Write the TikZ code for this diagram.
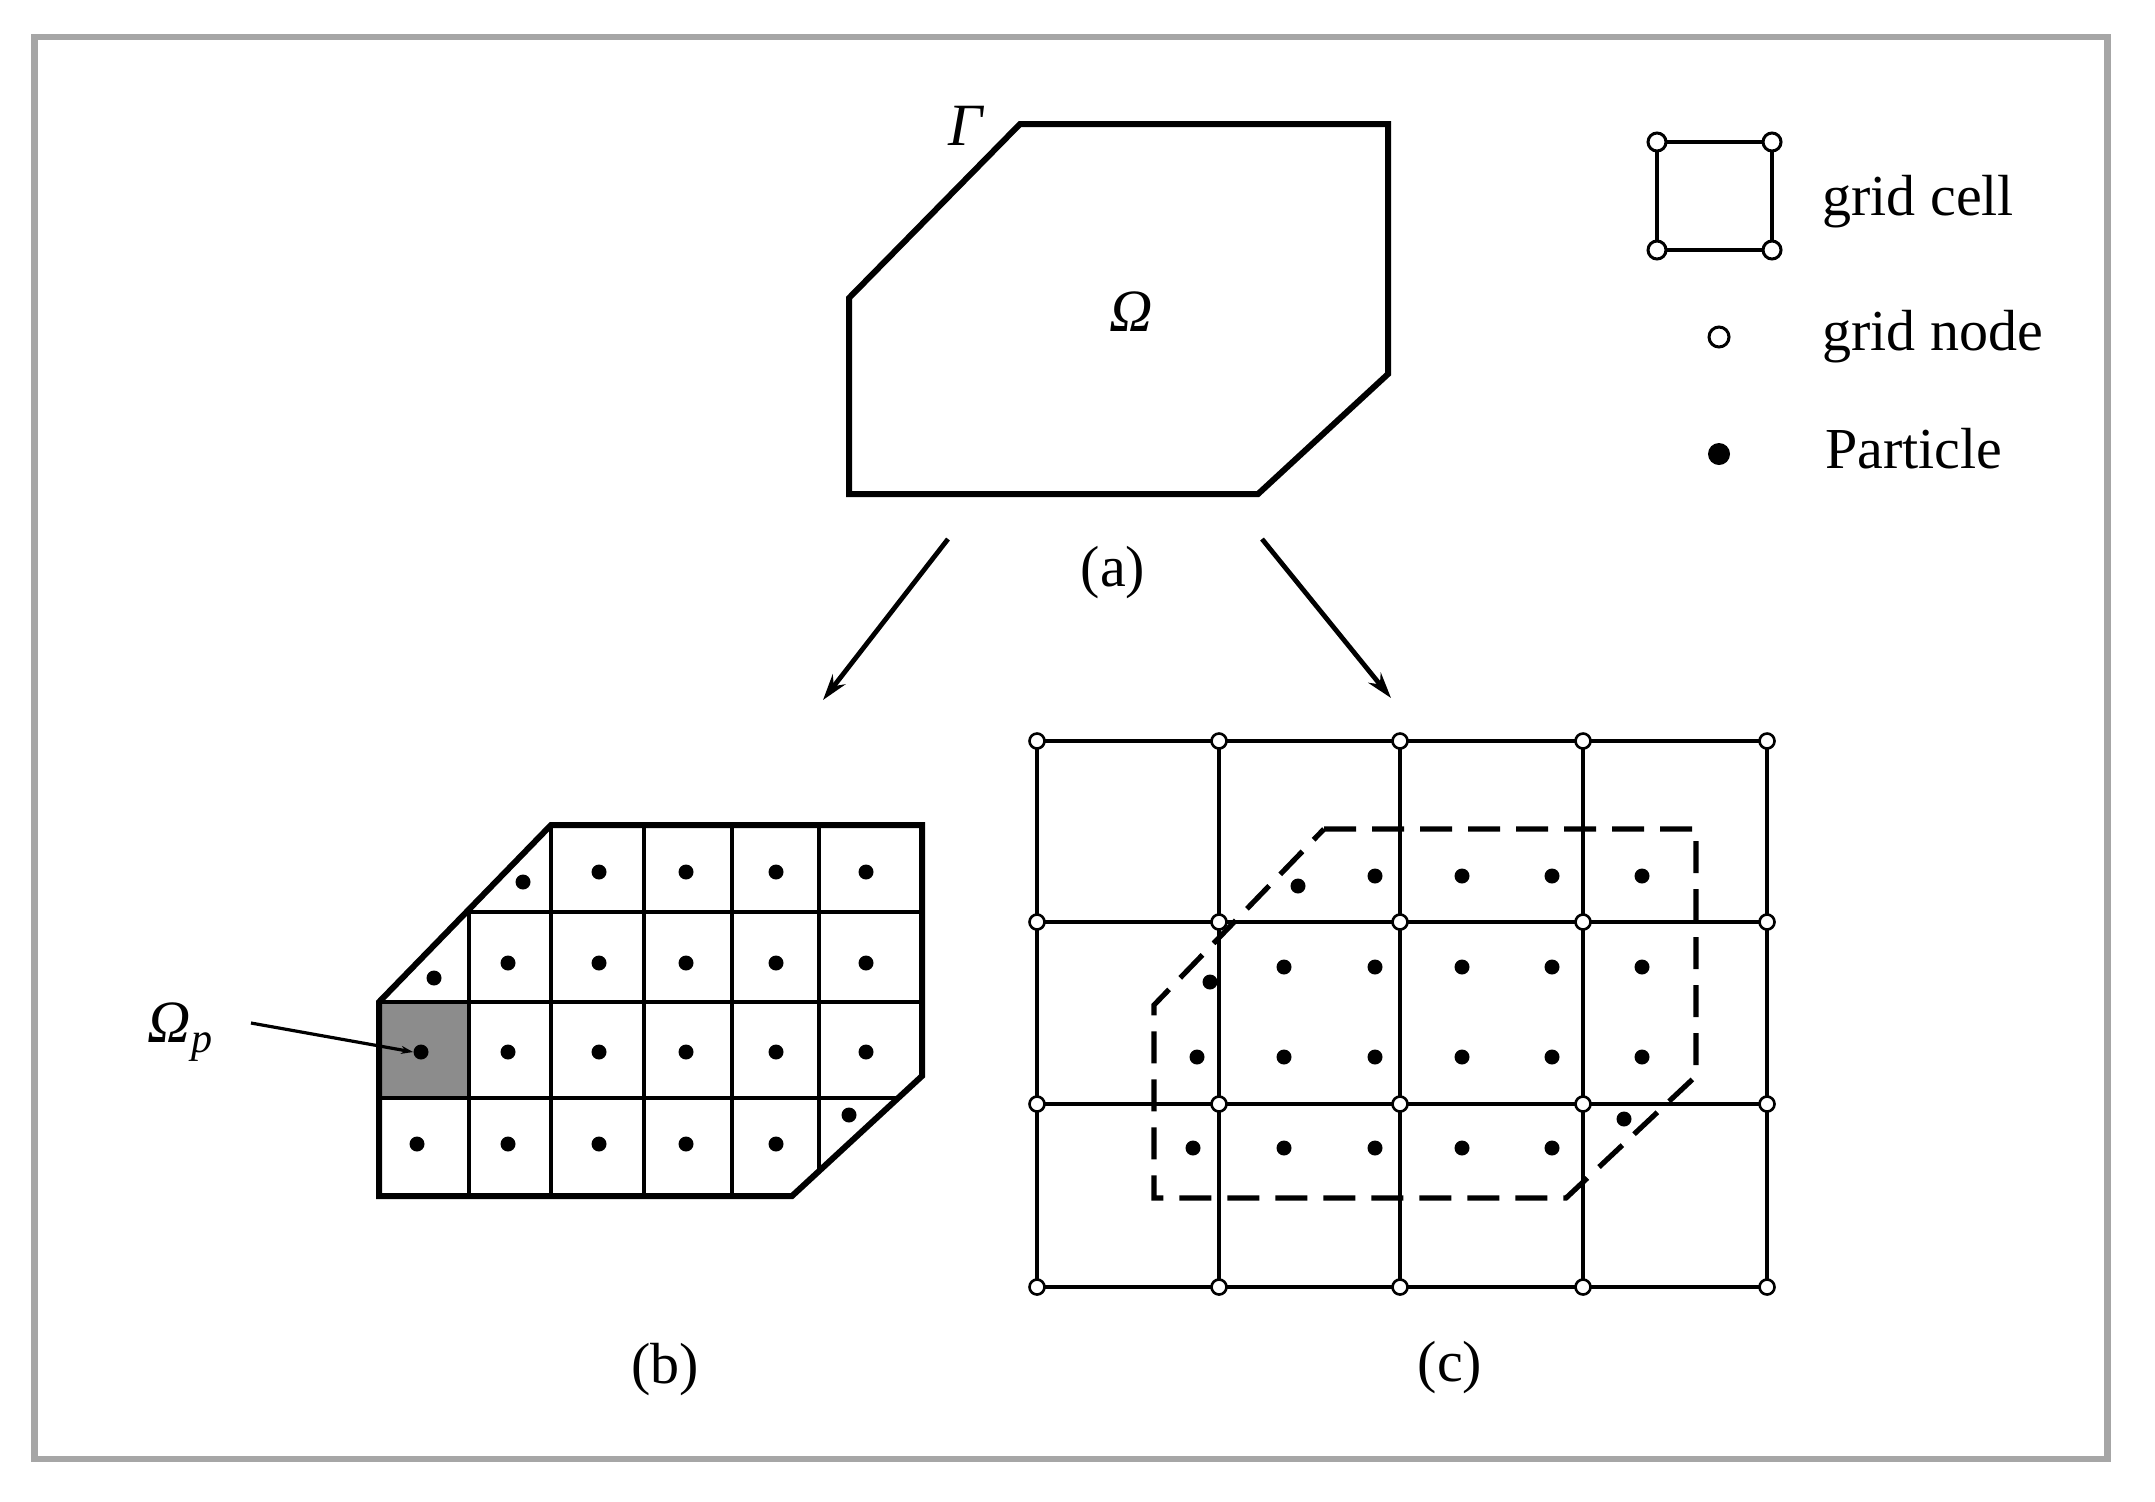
\documentclass[tikz,border=0pt]{standalone}
\usepackage{fontspec}
\setmainfont{Liberation Serif}
\usetikzlibrary{arrows.meta}
\begin{document}
\begin{tikzpicture}[x=0.5pt,y=-0.5pt,
  frame/.style={draw=black!35, line width=3.2pt},
  outline/.style={draw=black, line width=3pt, line join=miter},
  gline/.style={draw=black, line width=2.3pt},
  dashpoly/.style={draw=black, line width=2.6pt, dash pattern=on 16pt off 8pt},
  pdot/.style={circle, fill=black, inner sep=0pt, minimum size=7.5pt},
  gnode/.style={circle, draw=black, fill=white, line width=1.3pt, inner sep=0pt, minimum size=7.5pt},
  lgnode/.style={circle, draw=black, fill=white, line width=1.5pt, inner sep=0pt, minimum size=10pt},
  lpdot/.style={circle, fill=black, inner sep=0pt, minimum size=11pt},
  lbl/.style={font=\fontsize{29}{34}\selectfont, inner sep=0pt},
  greek/.style={font=\fontsize{30}{34}\selectfont\itshape, inner sep=0pt},
  arr/.style={draw=black, line width=2.4pt, -{Stealth[length=13pt,width=8pt]}},
  smallarr/.style={draw=black, line width=1.6pt, -{Stealth[length=6pt,width=4pt]}},
]
\useasboundingbox (0,0) rectangle (2155,1501);
\fill[white] (0,0) rectangle (2155,1501);
% outer frame
\draw[frame] (34.5,37) rectangle (2107.5,1459);

% ---------- panel (a) ----------
\draw[outline] (1020,124) -- (1388,124) -- (1388,374) -- (1258,494) -- (849,494) -- (849,298) -- cycle;
\node[greek] (gam) at (966,126) {Γ};
\node[greek] (omg) at (1131,312) {Ω};
\node[lbl] (la) at (1113,573) {(a)};

% arrows
\coordinate (aLs) at (948,539);
\coordinate (aLe) at (823,700);
\coordinate (aRs) at (1262,539);
\coordinate (aRe) at (1391,698);
\draw[arr] (aLs) -- (aLe);
\draw[arr] (aRs) -- (aRe);

% ---------- legend ----------
\coordinate (lc1) at (1657,142);
\coordinate (lc2) at (1772,142);
\coordinate (lc3) at (1772,250);
\coordinate (lc4) at (1657,250);
\draw[black, line width=2pt] (lc1) -- (lc2) -- (lc3) -- (lc4) -- cycle;
\foreach \c in {lc1,lc2,lc3,lc4} \node[lgnode, minimum size=9pt] (n\c) at (\c) {};
\node[lbl, anchor=base west] (tcell) at (1822,215) {grid cell};
\node[lgnode] (lgn) at (1719,337) {};
\node[lbl, anchor=base west] (tnode) at (1822,350) {grid node};
\node[lpdot] (lpp) at (1719,454) {};
\node[lbl, anchor=base west] (tpart) at (1825,468) {Particle};

% ---------- panel (b) ----------
\fill[black!45] (379,1002) rectangle (469,1098);
\begin{scope}
  \clip (551,825) -- (922,825) -- (922,1076) -- (792,1196) -- (379,1196) -- (379,1002) -- cycle;
  \foreach \x in {469,551,644,732,819} \draw[gline] (\x,800) -- (\x,1220);
  \foreach \y in {912,1002,1098} \draw[gline] (360,\y) -- (940,\y);
\end{scope}
\draw[outline] (551,825) -- (922,825) -- (922,1076) -- (792,1196) -- (379,1196) -- (379,1002) -- cycle;
% particles (b)
\foreach \x [count=\i] in {599,686,776,866} \node[pdot] (pbA\i) at (\x,872) {};
\node[pdot] (pbA0) at (523,882) {};
\foreach \x [count=\i] in {508,599,686,776,866} \node[pdot] (pbB\i) at (\x,963) {};
\node[pdot] (pbB0) at (434,978) {};
\foreach \x [count=\i] in {421,508,599,686,776,866} \node[pdot] (pbC\i) at (\x,1052) {};
\foreach \x [count=\i] in {417,508,599,686,776} \node[pdot] (pbD\i) at (\x,1144) {};
\node[pdot] (pbD0) at (849,1115) {};
% Omega_p
\node[greek] (omp) at (180,1032) {Ω\raisebox{-0.35ex}{\fontsize{21}{21}\selectfont\itshape p}};
\coordinate (omps) at (251,1023);
\draw[smallarr] (omps) -- (pbC1.west);
\node[lbl] (lb) at (665,1370) {(b)};

% ---------- panel (c) ----------
\foreach \x in {1037,1219,1400,1583,1767} \draw[gline] (\x,741) -- (\x,1287);
\foreach \y in {741,922,1104,1287} \draw[gline] (1037,\y) -- (1767,\y);
\draw[dashpoly] (1324,829) -- (1696,829) -- (1696,1076) -- (1566,1198) -- (1154,1198) -- (1154,1005) -- cycle;
\foreach \x [count=\i] in {1037,1219,1400,1583,1767}
  \foreach \y [count=\j] in {741,922,1104,1287}
    \node[gnode] (g\i\j) at (\x,\y) {};
% particles (c)
\foreach \x [count=\i] in {1375,1462,1552,1642} \node[pdot] (pcA\i) at (\x,876) {};
\node[pdot] (pcA0) at (1298,886) {};
\foreach \x [count=\i] in {1284,1375,1462,1552,1642} \node[pdot] (pcB\i) at (\x,967) {};
\node[pdot] (pcB0) at (1210,982) {};
\foreach \x [count=\i] in {1197,1284,1375,1462,1552,1642} \node[pdot] (pcC\i) at (\x,1057) {};
\foreach \x [count=\i] in {1193,1284,1375,1462,1552} \node[pdot] (pcD\i) at (\x,1148) {};
\node[pdot] (pcD0) at (1624,1119) {};
\node[lbl] (lc) at (1450,1368) {(c)};
\end{tikzpicture}
\end{document}
